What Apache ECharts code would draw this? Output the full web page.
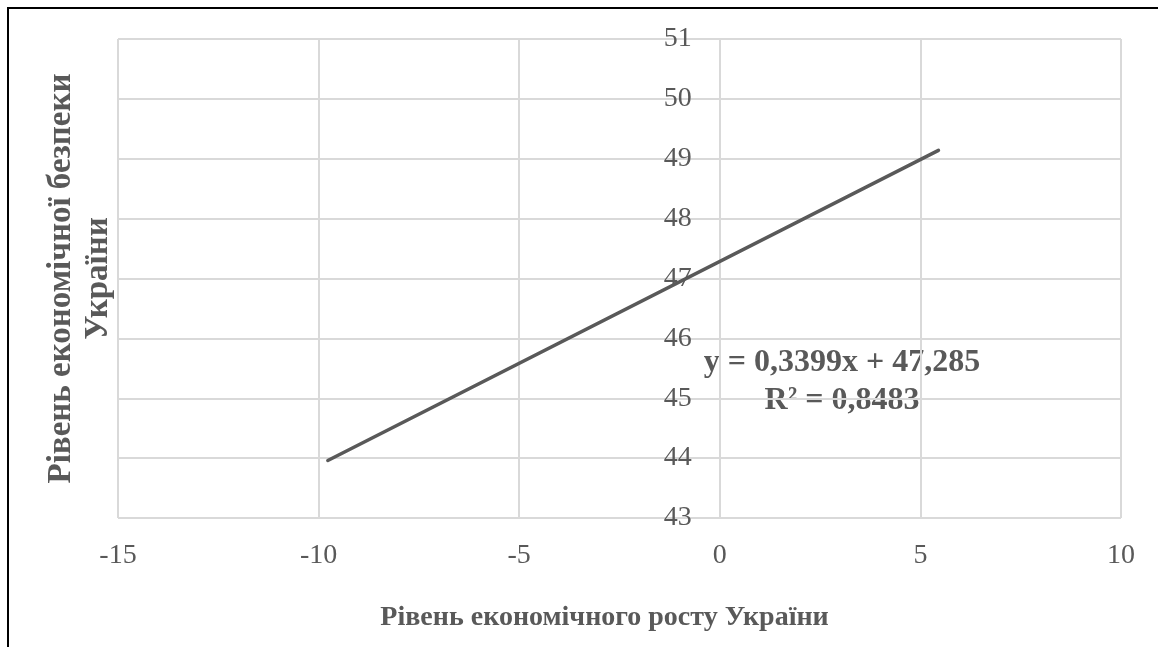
<!DOCTYPE html>
<html>
<head>
<meta charset="utf-8">
<script src="https://cdn.jsdelivr.net/npm/echarts@6/dist/echarts.min.js"></script>
<style>
html,body{margin:0;padding:0;background:#fff;}
#chart{width:1158px;height:647px;}
</style>
</head>
<body>
<div id="chart"></div>
<script>
// Trendline endpoints
const xValues = [-9.77, 5.45];
const yValues = [43.96, 49.14];
const xTicks = { min: -15, max: 10, interval: 5 };
const yTicks = { min: 43, max: 51, interval: 1 };
const xTitle = 'Рівень економічного росту України';
const yTitle = 'Рівень економічної безпеки\nУкраїни';
const equationLines = ['y = 0,3399x + 47,285', 'R² = 0,8483'];

const chart = echarts.init(document.getElementById('chart'));
const font = 'Liberation Serif';
const gray = '#595959';
const gridColor = '#d9d9d9';
const yTitleRightEdge = 117; // px from left of the canvas

const option = {
  animation: false,
  grid: { left: 118, top: 39, right: 37, bottom: 129, containLabel: false, outerBoundsMode: 'none' },
  xAxis: {
    type: 'value',
    min: xTicks.min, max: xTicks.max, interval: xTicks.interval,
    axisLine: { show: false, onZero: false },
    axisTick: { show: false },
    axisLabel: { color: gray, fontFamily: font, fontSize: 28, margin: 24 },
    splitLine: { show: true, lineStyle: { color: gridColor, width: 2 } },
    name: xTitle,
    nameLocation: 'middle',
    nameGap: 86,
    nameTextStyle: { color: gray, fontFamily: font, fontSize: 28, fontWeight: 'bold', padding: [0, 30, 0, 0] }
  },
  yAxis: {
    type: 'value',
    min: yTicks.min, max: yTicks.max, interval: yTicks.interval,
    axisLine: { show: false },
    axisTick: { show: false },
    axisLabel: { color: gray, fontFamily: font, fontSize: 28, margin: 28 },
    splitLine: { show: true, lineStyle: { color: gridColor, width: 2 } },
    name: yTitle,
    nameLocation: 'middle',
    nameGap: 2,
    nameRotate: 90,
    nameTextStyle: { color: gray, fontFamily: font, fontSize: 33, fontWeight: 'bold', lineHeight: 37, align: 'center' }
  },
  series: [{
    type: 'line',
    data: xValues.map((x, i) => [x, yValues[i]]),
    showSymbol: false,
    lineStyle: { color: gray, width: 3.5, cap: 'round' }
  }],
  graphic: [
    {
      type: 'polyline',
      shape: { points: [[8, 647], [8, 8], [1158, 8]] },
      style: { stroke: '#000', lineWidth: 2, fill: null },
      silent: true
    },
    {
      type: 'text',
      x: 842, y: 344,
      style: {
        text: equationLines.join('\n'),
        align: 'center',
        verticalAlign: 'top',
        fontFamily: font, fontSize: 32, fontWeight: 'bold',
        lineHeight: 38, fill: gray
      }
    }
  ]
};
chart.setOption(option);

// Move the vertical axis (labels) to cross the horizontal axis at x = 0, as in the reference
const zeroX = chart.convertToPixel({ xAxisIndex: 0 }, 0);
const leftX = chart.convertToPixel({ xAxisIndex: 0 }, xTicks.min);
chart.setOption({
  yAxis: {
    offset: -(zeroX - leftX),
    nameGap: zeroX - yTitleRightEdge
  }
});
</script>
</body>
</html>
